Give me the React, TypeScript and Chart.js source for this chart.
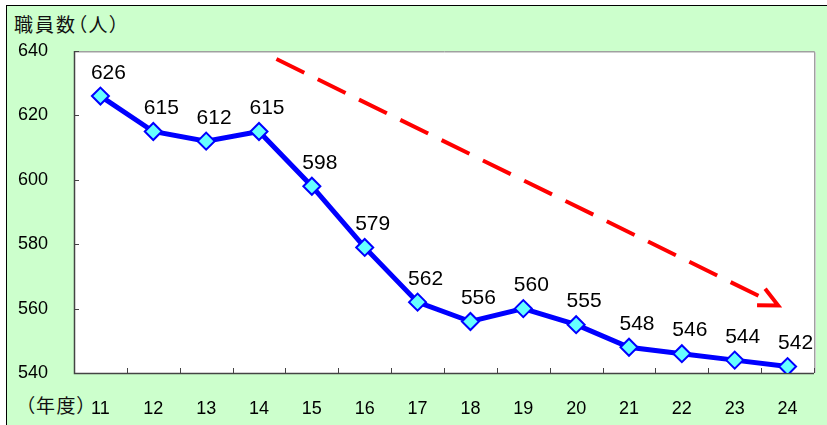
import React, { useEffect, useRef } from "react";
import { Chart, registerables } from "chart.js";

Chart.register(...registerables);

const years = ["11", "12", "13", "14", "15", "16", "17", "18", "19", "20", "21", "22", "23", "24"];
const staff = [626, 615, 612, 615, 598, 579, 562, 556, 560, 555, 548, 546, 544, 542];
const yMin = 540;
const yMax = 640;
const yStep = 20;
// trend arrow endpoints in data space (category index, value)
const arrowStart = { x: 3.33, y: 637.5 };
const arrowEnd = { x: 12.82, y: 561.0 };

const CJK = '"Noto Sans CJK JP", "Noto Sans", sans-serif';
const NUM = '"Liberation Sans", Arial, sans-serif';

const plotPlugin = {
  id: "plotDecor",
  beforeDraw(chart: any) {
    const { ctx, chartArea: a } = chart;
    ctx.save();
    ctx.fillStyle = "#ffffff";
    ctx.fillRect(a.left, a.top, a.right - a.left, a.bottom - a.top);
    ctx.restore();
  },
  beforeDatasetsDraw(chart: any) {
    const { ctx, chartArea: a, scales } = chart;
    ctx.save();
    ctx.strokeStyle = "#d0d0d0";
    ctx.lineWidth = 1;
    ctx.beginPath();
    ctx.moveTo(a.left, a.top + 1.5);
    ctx.lineTo(a.right + 1.5, a.top + 1.5);
    ctx.lineTo(a.right + 1.5, a.bottom);
    ctx.stroke();
    ctx.strokeStyle = "#a0a0a0";
    ctx.beginPath();
    ctx.moveTo(a.left, a.top + 0.5);
    ctx.lineTo(a.right + 0.5, a.top + 0.5);
    ctx.lineTo(a.right + 0.5, a.bottom);
    ctx.stroke();
    ctx.strokeStyle = "#444444";
    ctx.lineWidth = 1.5;
    ctx.beginPath();
    ctx.moveTo(a.left + 0.5, a.top);
    ctx.lineTo(a.left + 0.5, a.bottom + 0.5);
    ctx.lineTo(a.right, a.bottom + 0.5);
    ctx.stroke();
    ctx.lineWidth = 1;
    ctx.beginPath();
    const xs = scales.x;
    for (let i = 0; i <= years.length; i++) {
      const px = Math.round(xs.getPixelForValue(i - 0.5)) + 0.5;
      ctx.moveTo(px, a.bottom);
      ctx.lineTo(px, a.bottom - 5);
    }
    const ys = scales.y;
    for (let v = yMin; v <= yMax; v += yStep) {
      const py = Math.round(ys.getPixelForValue(v)) + 0.5;
      ctx.moveTo(a.left, py);
      ctx.lineTo(a.left + 5, py);
    }
    ctx.stroke();

    const x1 = xs.getPixelForValue(arrowStart.x);
    const y1 = ys.getPixelForValue(arrowStart.y);
    const x2 = xs.getPixelForValue(arrowEnd.x);
    const y2 = ys.getPixelForValue(arrowEnd.y);
    const ang = Math.atan2(y2 - y1, x2 - x1);
    ctx.strokeStyle = "#ff0000";
    ctx.lineWidth = 4;
    ctx.setLineDash([31, 15]);
    ctx.beginPath();
    ctx.moveTo(x1, y1);
    ctx.lineTo(x2 - Math.cos(ang) * 14, y2 - Math.sin(ang) * 14);
    ctx.stroke();
    ctx.setLineDash([]);
    const arm = 21;
    const spread = 0.45;
    ctx.beginPath();
    ctx.moveTo(x2 - Math.cos(ang - spread) * arm, y2 - Math.sin(ang - spread) * arm);
    ctx.lineTo(x2, y2);
    ctx.lineTo(x2 - Math.cos(ang + spread) * arm, y2 - Math.sin(ang + spread) * arm);
    ctx.stroke();
    ctx.restore();
  },
  afterDatasetsDraw(chart: any) {
    const { ctx } = chart;
    const meta = chart.getDatasetMeta(0);
    ctx.save();
    ctx.font = `21px ${NUM}`;
    ctx.fillStyle = "#000000";
    ctx.textAlign = "center";
    ctx.textBaseline = "middle";
    meta.data.forEach((pt: any, i: number) => {
      ctx.fillText(String(staff[i]), pt.x + 8, pt.y - 23);
    });
    ctx.restore();
  },
};

export default function App() {
  const ref = useRef<HTMLCanvasElement>(null);
  useEffect(() => {
    if (!ref.current) return;
    const chart = new Chart(ref.current, {
      type: "line",
      data: {
        labels: years,
        datasets: [
          {
            data: staff,
            borderColor: "#0000ff",
            borderWidth: 5,
            pointStyle: "rectRot",
            pointRadius: 8.5,
            pointBorderWidth: 2,
            pointBackgroundColor: "#66ffff",
            pointBorderColor: "#0000ff",
            tension: 0,
          },
        ],
      },
      options: {
        animation: false,
        responsive: false,
        maintainAspectRatio: false,
        layout: { padding: { left: 0, top: 51, right: 13, bottom: 0 } },
        plugins: { legend: { display: false }, tooltip: { enabled: false } },
        scales: {
          x: {
            type: "category",
            offset: true,
            grid: { display: false, offset: true },
            border: { display: false },
            ticks: { color: "#000000", font: { family: NUM, size: 18 }, padding: 17, maxRotation: 0 },
            afterFit: (s: any) => {
              s.height = 52;
            },
          },
          y: {
            min: yMin,
            max: yMax,
            grid: { display: false },
            border: { display: false },
            ticks: { stepSize: yStep, color: "#000000", font: { family: NUM, size: 18 }, padding: 18 },
            afterFit: (s: any) => {
              s.width = 74;
            },
          },
        },
      },
      plugins: [plotPlugin],
    });
    return () => chart.destroy();
  }, []);

  const labelStyle: React.CSSProperties = {
    position: "absolute",
    fontFamily: CJK,
    fontSize: 19,
    color: "#111111",
    lineHeight: "26px",
    whiteSpace: "nowrap",
    fontFeatureSettings: '"palt"',
  };

  return (
    <div style={{ position: "fixed", left: 0, top: 0, width: 827, height: 425, overflow: "hidden", background: "#ffffff" }}>
      <div
        style={{
          position: "absolute",
          left: 6,
          top: 5,
          width: 840,
          height: 440,
          border: "1px solid #000000",
          background: "#ccffcc",
        }}
      />
      <div style={{ ...labelStyle, left: 14, top: 11, letterSpacing: 2 }}>職員数（人）</div>
      <div style={{ ...labelStyle, left: 25, top: 392, letterSpacing: 1.5 }}>（年度）</div>
      <canvas ref={ref} width={827} height={425} style={{ position: "absolute", left: 0, top: 0, width: 827, height: 425 }} />
    </div>
  );
}
